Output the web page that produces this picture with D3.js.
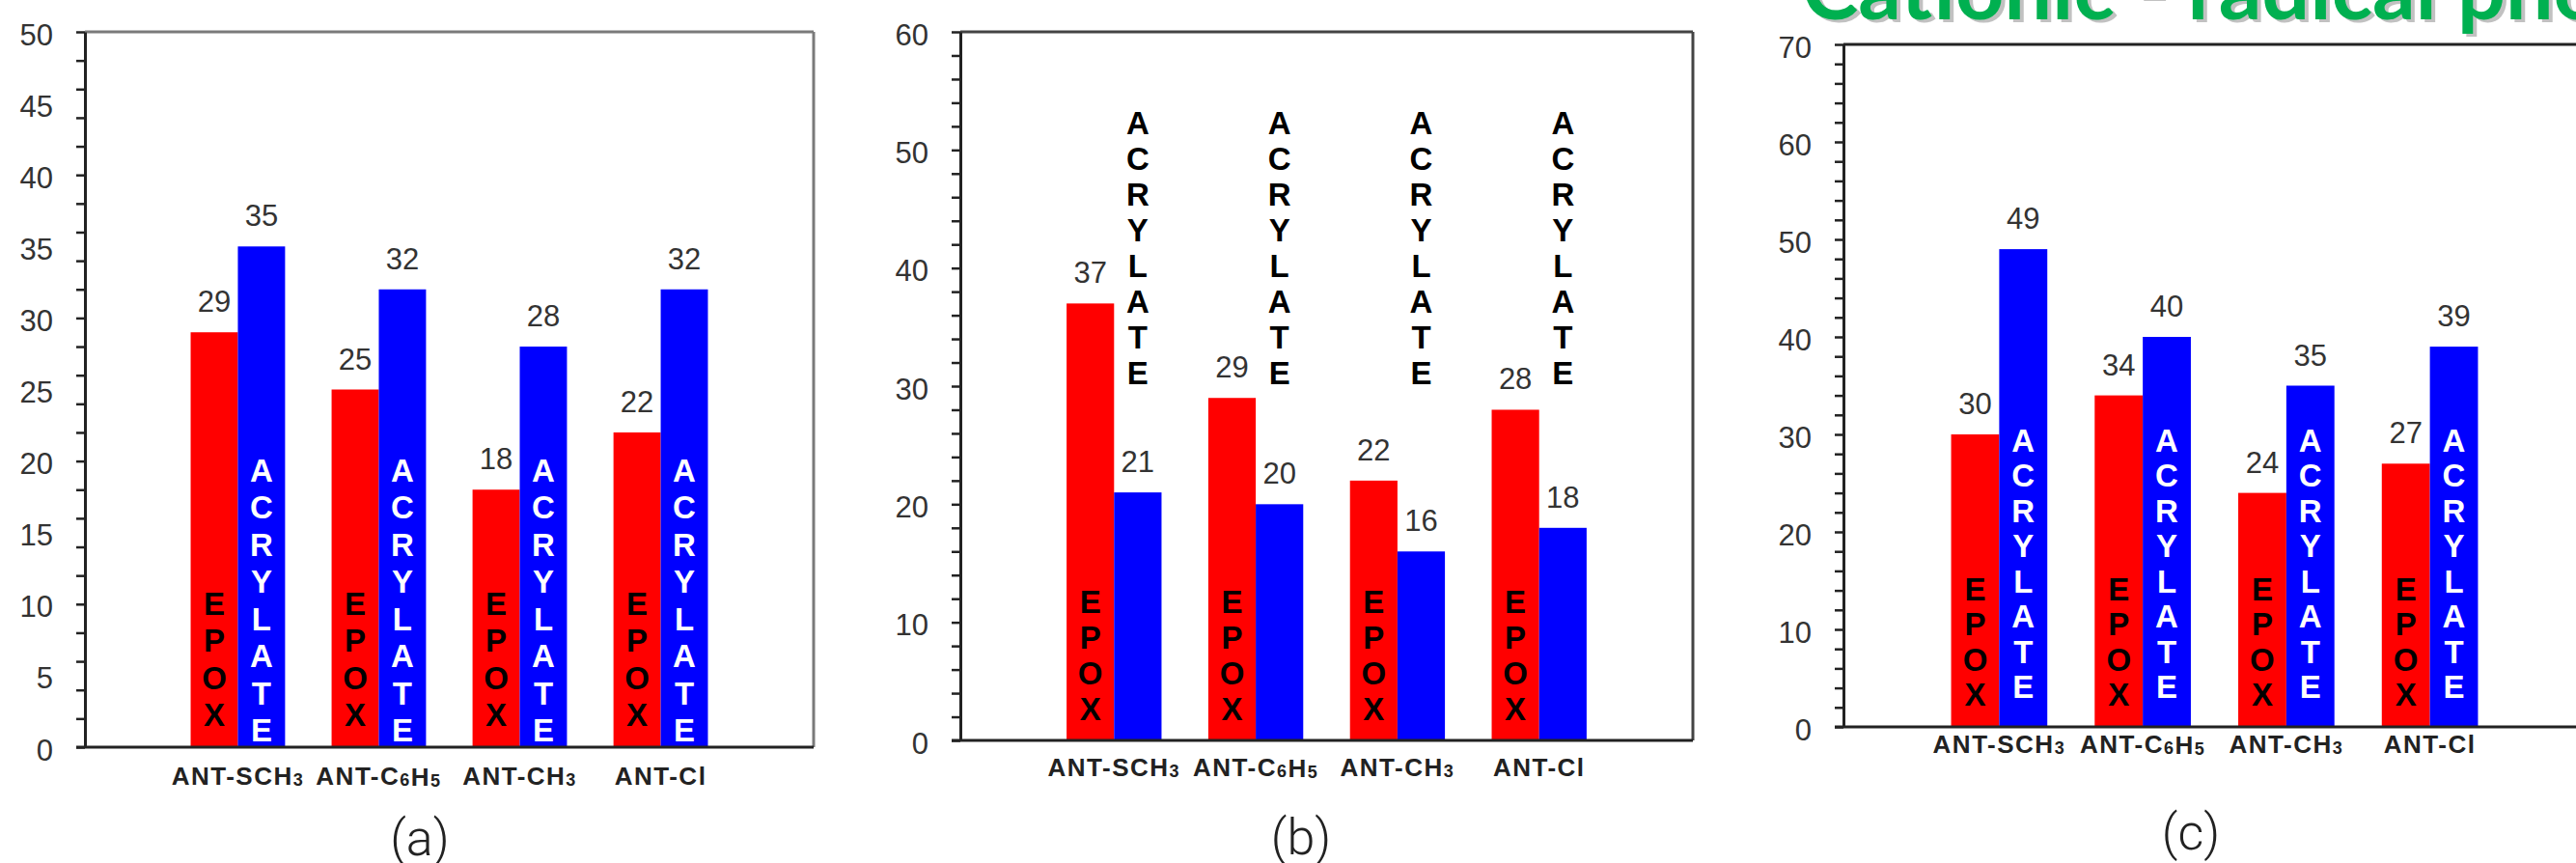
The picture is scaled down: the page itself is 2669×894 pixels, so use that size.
<!DOCTYPE html>
<html>
<head>
<meta charset="utf-8">
<script src="https://cdn.jsdelivr.net/npm/d3@7"></script>
<style>
  body { margin: 0; background: #fff; }
  svg { display: block; }
  .tick-label { font-family: "Liberation Sans Narrow", "Arial Narrow", "Liberation Sans", Arial, sans-serif; font-size: 31px; fill: #333; }
  .value-label { font-family: "Liberation Sans Narrow", "Arial Narrow", "Liberation Sans", Arial, sans-serif; font-size: 31px; fill: #333; }
  .cat-label { font-family: "Liberation Sans", Arial, sans-serif; font-weight: bold; font-size: 26px; fill: #222; letter-spacing: 1.5px; }
  .stack { font-family: "Liberation Sans", Arial, sans-serif; font-weight: bold; font-size: 33px; }
  .tag { font-family: Roboto, "Open Sans", sans-serif; font-weight: 300; font-size: 52px; fill: #222; }
  .title { font-family: Lato, "Open Sans", sans-serif; font-weight: bold; font-size: 88px; }
</style>
</head>
<body>
<svg id="chart"></svg>
<script>
// Données
const categories = ["ANT-SCH3", "ANT-C6H5", "ANT-CH3", "ANT-Cl"];
const series = ["EPOX", "ACRYLATE"];

// (a)
const epoxA = [29, 25, 18, 22];
const acrylateA = [35, 32, 28, 32];
const ticksA = [0, 5, 10, 15, 20, 25, 30, 35, 40, 45, 50];

// (b)
const epoxB = [37, 29, 22, 28];
const acrylateB = [21, 20, 16, 18];
const ticksB = [0, 10, 20, 30, 40, 50, 60];

// (c)
const epoxC = [30, 34, 24, 27];
const acrylateC = [49, 40, 35, 39];
const ticksC = [0, 10, 20, 30, 40, 50, 60, 70];

const tags = ["(a)", "(b)", "(c)"];
const title = "Cationic - radical photopolymerization";

const colors = { EPOX: "#ff0000", ACRYLATE: "#0000ff" };

// Configuration
const width = 2669;
const height = 894;
const svg = d3.select("#chart").attr("width", width).attr("height", height);

const panels = [
  { epox: epoxA, acrylate: acrylateA, ticks: ticksA, max: 50,
    x0: 88, x1: 843, y0: 33, y1: 774, tag: tags[0], tagX: 435, tagY: 886,
    frame: "#7a7a7a", labelGap: 39, epoxGap: 22, acrylGap: 6, lineH: 38.5, acrylInside: true },
  { epox: epoxB, acrylate: acrylateB, ticks: ticksB, max: 60,
    x0: 995, x1: 1754, y0: 33, y1: 767, tag: tags[1], tagX: 1348, tagY: 885,
    frame: "#444", labelGap: 37, epoxGap: 21, acrylTop: 53.3, lineH: 37, acrylInside: false },
  { epox: epoxC, acrylate: acrylateC, ticks: ticksC, max: 70,
    x0: 1910, x1: 2679, y0: 46, y1: 753, tag: tags[2], tagX: 2270, tagY: 880,
    frame: "#222", labelGap: 27, epoxGap: 22, acrylGap: 30, lineH: 36.5, acrylInside: true }
];

// Titre (coupé en haut)
const titleG = svg.append("g");
titleG.append("text").attr("class", "title")
  .attr("x", 1871).attr("y", 23)
  .attr("fill", "#777").attr("opacity", 0.45)
  .text(title);
titleG.append("text").attr("class", "title")
  .attr("x", 1867).attr("y", 20)
  .attr("fill", "#00b050")
  .text(title);

// Libellés avec indices
function writeLabel(sel, label) {
  const parts = label.match(/[^0-9]+|[0-9]+/g);
  parts.forEach(part => {
    const isSub = /^[0-9]+$/.test(part);
    sel.append("tspan")
      .attr("font-size", isSub ? "18px" : null)
      .attr("dy", isSub ? 1 : null)
      .text(part);
    if (isSub) sel.append("tspan").attr("dy", -1).text("");
  });
}

function drawPanel(p) {
  const x = d3.scaleBand().domain(categories).range([p.x0, p.x1])
    .paddingInner(0.33).paddingOuter(0.75);
  const xs = d3.scaleBand().domain(series).range([0, x.bandwidth()]);
  const y = d3.scaleLinear().domain([0, p.max]).range([p.y1, p.y0]);

  const rows = categories.map((c, i) => ({ cat: c, EPOX: p.epox[i], ACRYLATE: p.acrylate[i] }));
  const g = svg.append("g");

  // Barres
  const groups = g.selectAll(".grp").data(rows).enter().append("g")
    .attr("transform", d => `translate(${x(d.cat)},0)`);

  groups.selectAll("rect")
    .data(d => series.map(s => ({ s, v: d[s] })))
    .enter().append("rect")
    .attr("x", d => xs(d.s))
    .attr("y", d => y(d.v))
    .attr("width", xs.bandwidth())
    .attr("height", d => y(0) - y(d.v))
    .attr("fill", d => colors[d.s]);

  // Valeurs
  groups.selectAll(".value-label")
    .data(d => series.map(s => ({ s, v: d[s] })))
    .enter().append("text")
    .attr("class", "value-label")
    .attr("x", d => xs(d.s) + xs.bandwidth() / 2)
    .attr("y", d => y(d.v) - 21)
    .attr("text-anchor", "middle")
    .text(d => d.v);

  // Lettres empilées EPOX / ACRYLATE
  const epoxLetters = series[0].split("");
  const acr = series[1].split("");
  groups.each(function () {
    const grp = d3.select(this);
    const cx = xs("EPOX") + xs.bandwidth() / 2;
    epoxLetters.forEach((ch, i) => {
      grp.append("text").attr("class", "stack")
        .attr("x", cx)
        .attr("y", p.y1 - p.epoxGap - (epoxLetters.length - 1 - i) * p.lineH)
        .attr("text-anchor", "middle")
        .attr("fill", "#000")
        .text(ch);
    });
    const ax = xs("ACRYLATE") + xs.bandwidth() / 2;
    acr.forEach((ch, i) => {
      const yy = p.acrylInside
        ? p.y1 - p.acrylGap - (acr.length - 1 - i) * p.lineH
        : y(p.acrylTop) + 24 + i * p.lineH;
      grp.append("text").attr("class", "stack")
        .attr("x", ax)
        .attr("y", yy)
        .attr("text-anchor", "middle")
        .attr("fill", p.acrylInside ? "#fff" : "#000")
        .text(ch);
    });
  });

  // Cadre haut / droit
  g.append("line").attr("x1", p.x0).attr("x2", p.x1).attr("y1", p.y0).attr("y2", p.y0)
    .attr("stroke", p.frame).attr("stroke-width", 3);
  g.append("line").attr("x1", p.x1).attr("x2", p.x1).attr("y1", p.y0).attr("y2", p.y1)
    .attr("stroke", p.frame).attr("stroke-width", 3);

  // Axe Y (graduations tous les 2)
  const yAxis = d3.axisLeft(y)
    .tickValues(d3.range(0, p.max + 1, 2))
    .tickSize(9).tickSizeOuter(0)
    .tickFormat("");
  const ya = g.append("g").attr("transform", `translate(${p.x0},0)`).call(yAxis);
  ya.select(".domain").attr("stroke", "#222").attr("stroke-width", 3);
  ya.selectAll(".tick line").attr("stroke", "#222").attr("stroke-width", 2.5);

  g.selectAll(".tick-label").data(p.ticks).enter().append("text")
    .attr("class", "tick-label")
    .attr("x", p.x0 - 33)
    .attr("y", d => y(d) + 3)
    .attr("text-anchor", "end")
    .attr("dominant-baseline", "central")
    .text(d => d);

  // Axe X
  g.append("line").attr("x1", p.x0 - 9).attr("x2", p.x1).attr("y1", p.y1).attr("y2", p.y1)
    .attr("stroke", "#222").attr("stroke-width", 3);

  g.selectAll(".cat-label").data(categories).enter().append("text")
    .attr("class", "cat-label")
    .attr("x", d => x(d) + x.bandwidth() / 2)
    .attr("y", p.y1 + p.labelGap)
    .attr("text-anchor", "middle")
    .each(function (d) { writeLabel(d3.select(this), d); });

  // Étiquette du panneau
  g.append("text").attr("class", "tag")
    .attr("x", p.tagX).attr("y", p.tagY)
    .attr("text-anchor", "middle")
    .text(p.tag);
}

panels.forEach(drawPanel);
</script>
</body>
</html>
